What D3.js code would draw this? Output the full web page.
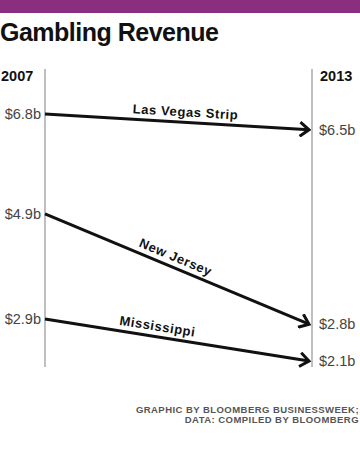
<!DOCTYPE html>
<html>
<head>
<meta charset="utf-8">
<script src="https://cdn.jsdelivr.net/npm/d3@7"></script>
<style>
  body { margin: 0; background: #fff; }
  svg { display: block; font-family: "Liberation Sans", Arial, sans-serif; }
</style>
</head>
<body>
<div id="chart"></div>
<script>
// data
var states = ['Las Vegas Strip', 'New Jersey', 'Mississippi'];
var rev2007 = [6.8, 4.9, 2.9];
var rev2013 = [6.5, 2.8, 2.1];
var years = ['2007', '2013'];
var labelAt = [0.53, 0.48, 0.42];

var W = 360, H = 457;
var svg = d3.select('#chart').append('svg').attr('width', W).attr('height', H);

svg.append('rect').attr('x', 0).attr('y', 0).attr('width', W).attr('height', 13).attr('fill', '#8a2f80');

svg.append('text').attr('x', 0).attr('y', 41)
  .attr('font-size', 25).attr('font-weight', 'bold').attr('letter-spacing', -0.5)
  .attr('fill', '#111').text('Gambling Revenue');

var x = d3.scalePoint().domain(years).range([45, 312]);
var y = d3.scaleLinear().domain([2.1, 6.8]).range([361, 114]);

// axes lines
years.forEach(function(yr){
  svg.append('line').attr('x1', x(yr)).attr('x2', x(yr)).attr('y1', 69).attr('y2', 367)
    .attr('stroke', '#aaa').attr('stroke-width', 1.5);
});
svg.append('text').attr('x', 1).attr('y', 81).attr('font-size', 14.5).attr('font-weight', 'bold').attr('fill', '#111').text(years[0]);
svg.append('text').attr('x', x(years[1]) + 8).attr('y', 81).attr('font-size', 14.5).attr('font-weight', 'bold').attr('fill', '#111').text(years[1]);

svg.append('defs').append('marker')
  .attr('id', 'arr').attr('viewBox', '-12 -8 14 16').attr('refX', 0).attr('refY', 0)
  .attr('markerWidth', 14).attr('markerHeight', 16).attr('markerUnits', 'userSpaceOnUse')
  .attr('orient', 'auto')
  .append('path').attr('d', 'M-9,-7 L0,0 L-9,7').attr('fill', 'none')
  .attr('stroke', '#111').attr('stroke-width', 3).attr('stroke-linejoin', 'miter');

var fmt = function(v){ return '$' + v.toFixed(1) + 'b'; };

states.forEach(function(s, i){
  var x0 = x(years[0]), x1 = x(years[1]) - 3;
  var y0 = y(rev2007[i]), y1 = y(rev2013[i]);
  svg.append('line').attr('x1', x0).attr('y1', y0).attr('x2', x1).attr('y2', y1)
    .attr('stroke', '#111').attr('stroke-width', 3).attr('marker-end', 'url(#arr)');

  svg.append('text').attr('x', x0 - 4).attr('y', y0 + 5).attr('text-anchor', 'end')
    .attr('font-size', 14.5).attr('fill', '#444').text(fmt(rev2007[i]));
  svg.append('text').attr('x', x(years[1]) + 7).attr('y', y1 + 5)
    .attr('font-size', 14.5).attr('fill', '#444').text(fmt(rev2013[i]));

  var t = labelAt[i];
  var lx = x0 + (x1 - x0) * t, ly = y0 + (y1 - y0) * t;
  var ang = Math.atan2(y1 - y0, x1 - x0) * 180 / Math.PI;
  svg.append('text')
    .attr('transform', 'translate(' + lx + ',' + ly + ') rotate(' + ang + ')')
    .attr('x', 0).attr('y', -6).attr('text-anchor', 'middle')
    .attr('font-size', 13).attr('font-weight', 'bold').attr('letter-spacing', 0.6)
    .attr('fill', '#111').text(s);
});

var credits = ['GRAPHIC BY BLOOMBERG BUSINESSWEEK;', 'DATA: COMPILED BY BLOOMBERG'];
credits.forEach(function(c, i){
  svg.append('text').attr('x', 359).attr('y', 413 + i * 10).attr('text-anchor', 'end')
    .attr('font-size', 9.5).attr('font-weight', 'bold').attr('letter-spacing', 0.45)
    .attr('fill', '#555').text(c);
});
</script>
</body>
</html>
